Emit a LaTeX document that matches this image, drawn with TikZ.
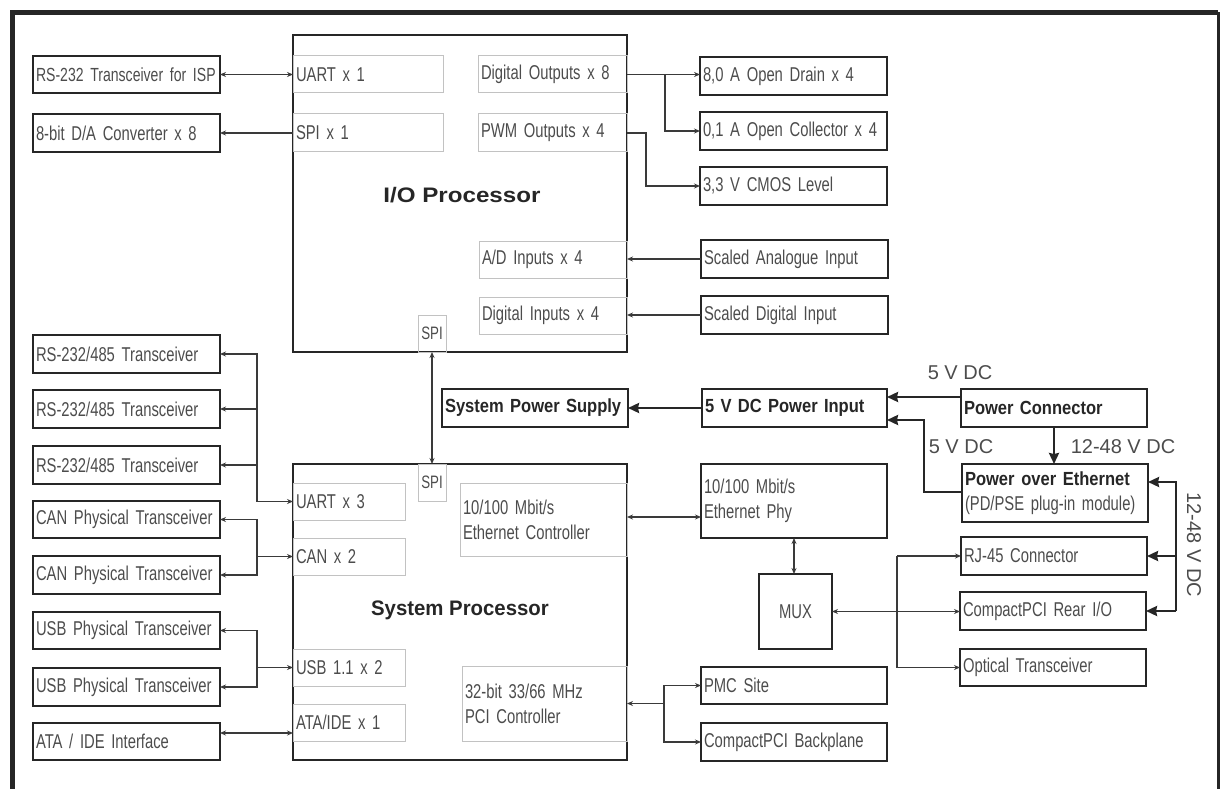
\documentclass[tikz,border=0pt]{standalone}
\usepackage{fontspec}
\setmainfont{Liberation Sans}
\newfontfamily\condf{Liberation Sans}[FakeStretch=0.74]
\newfontfamily\pbf{Liberation Sans}[FakeStretch=0.87]
\newfontfamily\iopf{Liberation Sans}[FakeStretch=1.15]
\newfontfamily\spf{Liberation Sans}[FakeStretch=0.97]
\newcommand\lblfont{\condf\fontsize{20}{25}\selectfont}
\newcommand\spifont{\condf\fontsize{18}{20}\selectfont}
\usetikzlibrary{arrows.meta,calc}
\definecolor{txt}{HTML}{4C4C4C}
\definecolor{dk}{HTML}{262626}
\definecolor{lite}{HTML}{C2C2C2}
\definecolor{ln}{HTML}{3A3A3A}
\tikzset{
  every node/.style={inner sep=0pt, outer sep=0pt},
  lbl/.style={font=\lblfont, text=txt, align=left, inner xsep=3pt},
  extbox/.style={lbl, draw=dk, line width=2.6pt},
  pwbox/.style={extbox, font=\pbf\bfseries\fontsize{19}{24}\selectfont, text=dk},
  innerbox/.style={lbl, draw=lite, line width=1pt},
  procbox/.style={draw=dk, line width=2pt},
  spibox/.style={draw=lite, line width=1pt, font=\spifont, text=txt},
  proclbl/.style={text=dk},
  vlbl/.style={font=\fontsize{20}{24}\selectfont, text=txt},
  conn/.style={draw=ln, line width=1.1pt},
  arr/.style={conn, -{Stealth[length=6pt,width=5pt]}},
  darr/.style={conn, {Stealth[length=6pt,width=5pt]}-{Stealth[length=6pt,width=5pt]}},
  pw/.style={draw=dk, line width=2.4pt, -{Stealth[length=11pt,width=10pt,inset=1pt]}},
}
% style, name, x1, y1, x2, y2, text
\newcommand\mybox[7]{%
  \pgfmathsetmacro\mbw{#5-#3}%
  \pgfmathsetmacro\mbh{#6-#4}%
  \pgfmathsetmacro\mbt{#5-#3-6}%
  \node[#1, minimum width=\mbw pt, minimum height=\mbh pt, text width=\mbt pt] (#2) at ({(#3+#5)/2},{(#4+#6)/2}) {#7};}
\newcommand\myplain[6]{%
  \pgfmathsetmacro\mbw{#5-#3}%
  \pgfmathsetmacro\mbh{#6-#4}%
  \node[#1, minimum width=\mbw pt, minimum height=\mbh pt] (#2) at ({(#3+#5)/2},{(#4+#6)/2}) {};}
\begin{document}
\begin{tikzpicture}[x=1pt,y=-1pt]
\useasboundingbox (0,0) rectangle (1221,789);
% frame
\draw[line width=5pt, draw=dk] (12.5,800) -- (12.5,12.5) -- (1218,12.5);
\draw[line width=3pt, draw=dk] (1218,12.5) -- (1218,800);

% processors
\myplain{procbox}{iop}{293}{35}{627}{352}
\myplain{procbox}{sp}{293}{464}{627}{760}
\node[proclbl, font=\iopf\bfseries\fontsize{21}{24}\selectfont] (iopl) at (462,195) {I/O Processor};
\node[proclbl, font=\spf\bfseries\fontsize{21}{24}\selectfont] (spl) at (460,610) {System Processor};

% IOP inner
\mybox{innerbox}{uart1}{293}{56}{443}{93}{UART x 1}
\mybox{innerbox}{spi1}{293}{114}{443}{152}{SPI x 1}
\mybox{innerbox}{dout}{478}{56}{627}{93}{Digital Outputs x 8}
\mybox{innerbox}{pwm}{478}{114}{627}{152}{PWM Outputs x 4}
\mybox{innerbox}{adin}{479}{241}{627}{278}{A/D Inputs x 4}
\mybox{innerbox}{din}{479}{297}{627}{334}{Digital Inputs x 4}
\node[spibox, minimum width=28pt, minimum height=37pt] (spia) at (432,333.5) {SPI};

% SP inner
\node[spibox, minimum width=28pt, minimum height=37pt] (spib) at (432,482.5) {SPI};
\mybox{innerbox}{uart3}{293}{483}{405}{520}{UART x 3}
\mybox{innerbox}{canx}{293}{538}{405}{575}{CAN x 2}
\mybox{innerbox}{usbx}{293}{649}{405}{686}{USB 1.1 x 2}
\mybox{innerbox}{atax}{293}{704}{405}{741}{ATA/IDE x 1}
\mybox{innerbox}{ethc}{460}{483}{627}{556}{10/100 Mbit/s\\Ethernet Controller}
\mybox{innerbox}{pcic}{462}{666}{627}{741}{32-bit 33/66 MHz\\PCI Controller}

% left boxes
\mybox{extbox}{rsisp}{33}{56}{220}{93}{\fontsize{19}{25}\selectfont\mbox{RS-232 Transceiver for ISP}}
\mybox{extbox}{dac}{33}{114}{220}{152}{8-bit D/A Converter x 8}
\mybox{extbox}{rs1}{33}{335}{220}{373}{RS-232/485 Transceiver}
\mybox{extbox}{rs2}{33}{390}{220}{428}{RS-232/485 Transceiver}
\mybox{extbox}{rs3}{33}{446}{220}{484}{RS-232/485 Transceiver}
\mybox{extbox}{can1}{33}{501}{220}{538}{CAN Physical Transceiver}
\mybox{extbox}{can2}{33}{556}{220}{594}{CAN Physical Transceiver}
\mybox{extbox}{usb1}{33}{612}{220}{649}{USB Physical Transceiver}
\mybox{extbox}{usb2}{33}{668}{220}{706}{USB Physical Transceiver}
\mybox{extbox}{ata}{33}{723}{220}{760}{ATA / IDE Interface}

% right top boxes
\mybox{extbox}{od}{700}{57}{887}{95}{8,0 A Open Drain x 4}
\mybox{extbox}{oc}{700}{112}{887}{150}{0,1 A Open Collector x 4}
\mybox{extbox}{cmos}{700}{167}{887}{205}{3,3 V CMOS Level}
\mybox{extbox}{sai}{701}{240}{888}{278}{Scaled Analogue Input}
\mybox{extbox}{sdi}{701}{296}{888}{334}{Scaled Digital Input}

% power
\mybox{pwbox}{sps}{442}{389}{628}{427}{System Power Supply}
\mybox{pwbox}{pin}{702}{389}{887}{427}{5 V DC Power Input}
\mybox{pwbox}{pcon}{961}{389}{1147}{427}{Power Connector}
\mybox{extbox}{poe}{962}{464}{1148}{522}{{\pbf\bfseries\fontsize{19}{24}\selectfont\color{dk}Power over Ethernet}\\(PD/PSE plug-in module)}

% ethernet / pci
\mybox{extbox}{phy}{701}{464}{887}{538}{10/100 Mbit/s\\Ethernet Phy}
\node[extbox, minimum width=73pt, minimum height=75pt, align=center] (mux) at (795.5,611.5) {MUX};
\mybox{extbox}{rj45}{961}{537}{1147}{575}{RJ-45 Connector}
\mybox{extbox}{rear}{960}{592}{1146}{630}{CompactPCI Rear I/O}
\mybox{extbox}{opt}{960}{649}{1146}{686}{Optical Transceiver}
\mybox{extbox}{pmc}{701}{667}{887}{704}{PMC Site}
\mybox{extbox}{bp}{701}{723}{887}{761}{CompactPCI Backplane}

% helper coordinates
\coordinate (bx) at (257,0);
\coordinate (j1) at (665,75);
\coordinate (j2) at (646,133);
\coordinate (vx) at (897,0);
\coordinate (px) at (664,0);
\coordinate (rx) at (1176,0);
\coordinate (pb) at (924,0);

% IOP connectors
\draw[darr] (rsisp.east) -- (uart1.west);
\draw[arr] (spi1.west) -- (dac.east);
\draw[arr] (dout.east) -- (dout.east -| od.west);
\draw[arr] (j1) |- (oc.west);
\draw[arr] (pwm.east) -- (j2) |- (cmos.west);
\draw[arr] (sai.west) -- (sai.west -| adin.east);
\draw[arr] (sdi.west) -- (sdi.west -| din.east);
\draw[darr] (spia.south) -- (spib.north);

% SP left connectors
\draw[darr] (rs1.east) -| (bx |- uart3.west) -- (uart3.west);
\draw[arr] (bx |- rs2.east) -- (rs2.east);
\draw[arr] (bx |- rs3.east) -- (rs3.east);
\draw[darr] (can1.east) -| (bx |- can2.east) -- (can2.east);
\draw[arr] (bx |- canx.west) -- (canx.west);
\draw[darr] (usb1.east) -| (bx |- usb2.east) -- (usb2.east);
\draw[arr] (bx |- usbx.west) -- (usbx.west);
\draw[darr] (ata.east |- 0,733) -- (atax.west |- 0,733);

% ethernet
\draw[darr] (ethc.east |- 0,517) -- (phy.west |- 0,517);
\draw[darr] (phy.south -| 794,0) -- (mux.north -| 794,0);
\draw[darr] (mux.east) -- (mux.east -| rear.west);
\draw[arr] (vx |- rj45.west) -- (rj45.west);
\draw[arr] (vx |- rj45.west) |- (opt.west);

% pci
\draw[arr] (px |- pcic.east) -- (pcic.east);
\draw[darr] (pmc.west) -| (px |- bp.west) -- (bp.west);

% power
\draw[pw] (pin.west) -- (sps.east);
\draw[pw] (pcon.west |- 0,397) -- (pin.east |- 0,397);
\node[vlbl] (l5a) at (960,373) {5 V DC};
\draw[pw] (poe.west |- 0,492) -| (pb |- 0,420) -- (pin.east |- 0,420);
\node[vlbl] (l5b) at (961,447) {5 V DC};
\draw[pw] (pcon.south) -- (poe.north -| pcon.south);
\node[vlbl] (l12a) at (1123,447) {12-48 V DC};
\draw[pw] (rx |- rear.east) -- (rx |- 0,482) -- (poe.east |- 0,482);
\draw[pw] (rx |- rj45.east) -- (rj45.east);
\draw[pw] (rx |- rear.east) -- (rear.east);
\node[vlbl, rotate=-90] (l12b) at (1194,545) {12-48 V DC};
\end{tikzpicture}
\end{document}
